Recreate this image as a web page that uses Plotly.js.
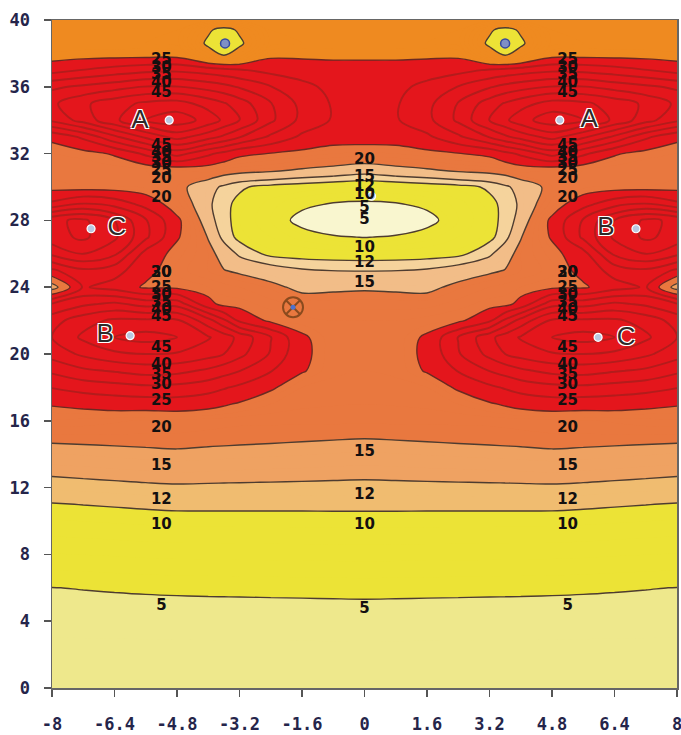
<!DOCTYPE html>
<html><head><meta charset="utf-8">
<script src="https://cdn.plot.ly/plotly-3.0.1.min.js"></script>
<style>html,body{margin:0;padding:0;background:#fff}#chart{width:681px;height:735px}</style>
</head><body><div id="chart"></div>
<script>
// grid coordinates (x, y) of the read-off field
const xGrid = [-8,-7.2,-6.4,-5.6,-4.8,-4,-3.6,-3.2,-2.4,-1.6,-0.8,0,0.8,1.6,2.4,3.2,3.6,4,4.8,5.6,6.4,7.2,8];
const yGrid = [0,5,6,7,10,11,12,13,14,15,16,17,18,19,20,21,22,23,24,25,26,27,28,29,30,31,32,33,34,35,36,37,37.8,38.6,39.4,40];
// field values (one row per yGrid value)
const zGrid = [
[3,3,3,3,3,3,3,3,3,3,3,3,3,3,3,3,3,3,3,3,3,3,3],
[4.65,4.67,4.69,4.71,4.73,4.74,4.75,4.75,4.76,4.77,4.79,4.8,4.79,4.77,4.76,4.75,4.75,4.74,4.73,4.71,4.69,4.67,4.65],
[4.98,5.05,5.12,5.19,5.24,5.28,5.29,5.31,5.34,5.37,5.4,5.43,5.4,5.37,5.34,5.31,5.29,5.28,5.24,5.19,5.12,5.05,4.98],
[5.94,6.03,6.11,6.2,6.26,6.29,6.3,6.32,6.34,6.37,6.4,6.42,6.4,6.37,6.34,6.32,6.3,6.29,6.26,6.2,6.11,6.03,5.94],
[8.91,9.02,9.13,9.25,9.33,9.35,9.35,9.36,9.37,9.38,9.4,9.41,9.4,9.38,9.37,9.36,9.35,9.35,9.33,9.25,9.13,9.02,8.91],
[9.9,10.04,10.18,10.32,10.43,10.43,10.43,10.43,10.42,10.42,10.42,10.42,10.42,10.42,10.42,10.43,10.43,10.43,10.43,10.32,10.18,10.04,9.9],
[11.13,11.28,11.43,11.58,11.69,11.65,11.63,11.61,11.58,11.54,11.5,11.47,11.5,11.54,11.58,11.61,11.63,11.65,11.69,11.58,11.43,11.28,11.13],
[12.44,12.62,12.8,12.99,13.13,13.02,12.98,12.94,12.85,12.77,12.68,12.6,12.68,12.77,12.85,12.94,12.98,13.02,13.13,12.99,12.8,12.62,12.44],
[13.9,14.1,14.3,14.48,14.63,14.46,14.4,14.33,14.2,14.07,13.93,13.8,13.93,14.07,14.2,14.33,14.4,14.46,14.63,14.48,14.3,14.1,13.9],
[15.58,15.64,15.7,15.76,15.8,15.66,15.6,15.55,15.44,15.32,15.2,15.1,15.2,15.32,15.44,15.55,15.6,15.66,15.8,15.76,15.7,15.64,15.58],
[17.8,17.6,17.2,16.8,16.6,16.4,16.3,16.2,16.2,16.2,16.2,16.2,16.2,16.2,16.2,16.2,16.3,16.4,16.6,16.8,17.2,17.6,17.8],
[20.3,21,21.8,22,22.5,21.5,20.5,19.5,18,17.3,17.1,17,17.1,17.3,18,19.5,20.5,21.5,22.5,22,21.8,21,20.3],
[25.2,27,28,29,28.5,27,25.5,24,20.5,18,17.7,17.6,17.7,18,20.5,24,25.5,27,28.5,29,28,27,25.2],
[31,34,35.5,37,36.5,34,32,30.2,25.3,20.3,18.2,18,18.2,20.3,25.3,30.2,32,34,36.5,37,35.5,34,31],
[37,41,44,45,44.5,42,40,36.5,29.5,20.8,18.3,18.3,18.3,20.8,29.5,36.5,40,42,44.5,45,44,41,37],
[40,46,50,52,50,45.5,42.5,38.5,30.2,20.5,18.3,18.3,18.3,20.5,30.2,38.5,42.5,45.5,50,52,50,46,40],
[38,43,46,46,46,37,31,24,19,18.5,18,18,18,18.5,19,24,31,37,46,46,46,43,38],
[30.2,34,36,33,33,21.5,18.5,18.5,17.5,16.5,16.5,16.5,16.5,16.5,17.5,18.5,18.5,21.5,33,33,36,34,30.2],
[12.5,25.5,23,19.3,19,18,17.5,17,15.8,14.2,14.4,14.6,14.4,14.2,15.8,17,17.5,18,19,19.3,23,25.5,12.5],
[24,29,27,21.5,17.5,16,15.1,14.5,13.3,12.3,11.95,11.9,11.95,12.3,13.3,14.5,15.1,16,17.5,21.5,27,29,24],
[36,40,36,23,18.5,16,13.8,11.5,9.4,9,8.8,8.7,8.8,9,9.4,11.5,13.8,16,18.5,23,36,40,36],
[43,46,41,31,20.5,14.8,11.2,9.4,8,6.5,5.3,4.9,5.3,6.5,8,9.4,11.2,14.8,20.5,31,41,46,43],
[44,46,40,30.5,21,12.9,10.8,9,7,3.8,2.6,2,2.6,3.8,7,9,10.8,12.9,21,30.5,40,46,44],
[26,30.2,28,23,17.5,12.5,10.5,9.5,7.5,5.8,4.8,4.5,4.8,5.8,7.5,9.5,10.5,12.5,17.5,23,28,30.2,26],
[18.5,18,18,17.5,16,13,11.5,10.3,9.3,8.8,8.3,8,8.3,8.8,9.3,10.3,11.5,13,16,17.5,18,18,18.5],
[17.5,17,17,17,17,17.5,16.5,16,15.5,14.6,14,13.2,14,14.6,15.5,16,16.5,17.5,17,17,17,17,17.5],
[18,18.5,20.5,26,32,26,23.5,21,19.8,18.8,18,17.7,18,18.8,19.8,21,23.5,26,32,26,20.5,18.5,18],
[21,26,34,41,47,42,39,35.3,29,24,22,22,22,24,29,35.3,39,42,47,41,34,26,21],
[36,42,49,55,58,53,49,45.3,36,28.5,24.5,23,24.5,28.5,36,45.3,49,53,58,55,49,42,36],
[39,44,48,51,52,48,45.5,42.5,35.3,28.5,24.5,23.5,24.5,28.5,35.3,42.5,45.5,48,52,51,48,44,39],
[34,36,38,40.3,40.3,38,36.5,34.5,30.2,26.5,23.5,23,23.5,26.5,30.2,34.5,36.5,38,40.3,40.3,38,36,34],
[23,25.2,27,28.5,29,27.5,26.5,25.5,23.5,22.5,21.5,21.5,21.5,22.5,23.5,25.5,26.5,27.5,29,28.5,27,25.2,23],
[18.5,19,19.3,19.5,19.5,13,11,13,19.5,19.5,19.5,19.5,19.5,19.5,19.5,13,11,13,19.5,19.5,19.3,19,18.5],
[17,17,17,17,16.5,9,2,9,16.5,17,17,17,17,17,16.5,9,2,9,16.5,17,17,17,17],
[17,17,17,17,17,10.8,8,10.8,17,17,17,17,17,17,17,10.8,8,10.8,17,17,17,17,17],
[17,17,17,17,17,17,17,17,17,17,17,17,17,17,17,17,17,17,17,17,17,17,17]
];
// contour levels drawn as lines
const lowLevels = [5,10,15];
const level12 = 12;
const redLevel = 20;
const starLevel = 10;
const ringLevelStart = 25, ringLevelEnd = 65, ringLevelStep = 5;

// axis ticks
const xTickVals = [-8,-6.4,-4.8,-3.2,-1.6,0,1.6,3.2,4.8,6.4,8];
const xTickText = ['-8','-6.4','-4.8','-3.2','-1.6','0','1.6','3.2','4.8','6.4','8'];
const yTickVals = [0,4,8,12,16,20,24,28,32,36,40];

// contour value labels
const labelX = [
 -5.2,-5.2,-5.2,-5.2,-5.2,-5.2,-5.2,-5.2,-5.2,-5.2,
 -5.2,-5.2,-5.2,-5.2,-5.2,-5.2,-5.2,
 -5.2,-5.2,-5.2,-5.2,-5.2,-5.2,-5.2,
 -5.2,-5.2,-5.2,-5.2,-5.2,
 5.2,5.2,5.2,5.2,5.2,5.2,5.2,5.2,5.2,5.2,
 5.2,5.2,5.2,5.2,5.2,5.2,5.2,
 5.2,5.2,5.2,5.2,5.2,5.2,5.2,
 5.2,5.2,5.2,5.2,5.2,
 0,0,0,0,0,0,0,0,0,0,0,0,0
];
const labelY = [
 4.87,9.72,11.26,13.25,15.57,17.15,18.15,18.75,19.35,20.35,
 22.2,22.6,23.05,23.5,23.95,24.85,24.85,
 29.3,30.45,30.95,31.35,31.7,32.05,32.45,
 35.6,36.2,36.7,37.1,37.6,
 4.87,9.72,11.26,13.25,15.57,17.15,18.15,18.75,19.35,20.35,
 22.2,22.6,23.05,23.5,23.95,24.85,24.85,
 29.3,30.45,30.95,31.35,31.7,32.05,32.45,
 35.6,36.2,36.7,37.1,37.6,
 4.73,9.72,11.56,14.13,24.25,25.45,26.35,28.0,28.7,29.5,30.0,30.6,31.6
];
const labelText = [
 '5','10','12','15','20','25','30','35','40','45',
 '45','40','35','30','25','20','30',
 '20','20','25','30','35','40','45',
 '45','40','35','30','25',
 '5','10','12','15','20','25','30','35','40','45',
 '45','40','35','30','25','20','30',
 '20','20','25','30','35','40','45',
 '45','40','35','30','25',
 '5','10','12','15','15','12','10','5','5','10','12','15','20'
];

// points and their letters
const siteX = [-5.0, 5.0, -7.0, 6.95, -6.0, 5.98, 0.18];
const siteY = [34.0, 34.0, 27.5, 27.5, 21.1, 21.0, 29.45];
const letterX = [-5.75, 5.75, -6.34, 6.18, -6.64, 6.7];
const letterY = [33.9, 34.0, 27.5, 27.5, 21.1, 20.95];
const letterText = ['A','A','C','B','B','C'];
const starX = [-3.57, 3.6];
const starY = [38.6, 38.6];
const crossX = [-1.83];
const crossY = [22.8];

// ---- helpers ----
const CLEAR = 'rgba(0,0,0,0)';
// stepped colour scale for a contour with unit level spacing from start to end
function bandScale(start, end, bands){
  const lo = start - 0.5, n = end - start + 1;
  const p = v => Math.max(0, Math.min(1, (v - lo) / n));
  const out = []; let prev = 0;
  bands.forEach(([upper, c], i) => {
    const u = (i === bands.length - 1) ? 1 : p(upper);
    out.push([prev, c]); out.push([u, c]); prev = u;
  });
  return out;
}
function subGrid(xr, yr, sign){
  const xi=[], yi=[];
  xGrid.forEach((v,i)=>{ if(v>=xr[0]-1e-9 && v<=xr[1]+1e-9) xi.push(i); });
  yGrid.forEach((v,i)=>{ if(v>=yr[0]-1e-9 && v<=yr[1]+1e-9) yi.push(i); });
  return { x: xi.map(i=>xGrid[i]), y: yi.map(j=>yGrid[j]), z: yi.map(j=>xi.map(i=>sign*zGrid[j][i])) };
}

const C = {
  pale:'#eee88c', yellow:'#ece336', light:'#f0bc70', peach:'#efa262', orange:'#e9783f', red:'#e4161c',
  cream:'#f9f6cf', ringLight:'#f5d39c', ringPeach:'#f2bd88', topOrange:'#ef8a20'
};
const lineCol = '#4e3c30';
const smooth = 1;

// main filled field
const mainFill = {
  type:'contour', x:xGrid, y:yGrid, z:zGrid,
  contours:{coloring:'fill', start:1, end:20, size:1, showlines:false},
  colorscale: bandScale(1, 20, [[5,C.pale],[10,C.yellow],[12,C.light],[15,C.peach],[20,C.orange],[Infinity,C.red]]),
  showscale:false, line:{width:0, smoothing:smooth}, hoverinfo:'skip'
};
// central low: paler bands (values negated so the low part is the nested "above" fill)
const cs = subGrid([-4.8,4.8],[23,32],-1);
const centerFill = {
  type:'contour', x:cs.x, y:cs.y, z:cs.z,
  contours:{coloring:'fill', start:-15, end:-5, size:1, showlines:false},
  colorscale: bandScale(-15, -5, [[-15,CLEAR],[-12,C.ringPeach],[-10,C.ringLight],[-5,C.yellow],[Infinity,C.cream]]),
  showscale:false, line:{width:0, smoothing:smooth}, hoverinfo:'skip'
};
// top strip
const ts = subGrid([-8,8],[36,40],-1);
const topFill = {
  type:'contour', x:ts.x, y:ts.y, z:ts.z,
  contours:{coloring:'fill', start:-20, end:-10, size:1, showlines:false},
  colorscale: bandScale(-20, -10, [[-20,CLEAR],[-10,C.topOrange],[Infinity,C.yellow]]),
  showscale:false, line:{width:0, smoothing:smooth}, hoverinfo:'skip'
};
function lineTrace(xr, yr, start, end, size, color, width){
  const g = subGrid(xr, yr, 1);
  return {type:'contour', x:g.x, y:g.y, z:g.z,
    contours:{coloring:'none', start:start, end:end, size:size},
    showscale:false, line:{color:color, width:width, smoothing:smooth}, hoverinfo:'skip'};
}
const linesLow = lineTrace([-8,8],[0,37], lowLevels[0], lowLevels[2], 5, lineCol, 1.4);
const lines12 = lineTrace([-8,8],[0,37], level12, level12+0.5, 1, lineCol, 1.4);
const linesRed = lineTrace([-8,8],[0,40], redLevel, redLevel+0.5, 1, '#6a2a22', 1.4);
const linesStar = lineTrace([-8,8],[37.8,40], starLevel, starLevel+0.5, 1, lineCol, 1.4);
const linesRing = lineTrace([-8,8],[0,40], ringLevelStart, ringLevelEnd, ringLevelStep, '#b31c1c', 1.9);

const labelTrace = {
  type:'scatter', mode:'text', x:labelX, y:labelY, text:labelText,
  textposition:'middle center', cliponaxis:false, hoverinfo:'skip',
  textfont:{family:'DejaVu Sans', size:15, color:'#141010', weight:'bold'}
};
const siteTrace = {
  type:'scatter', mode:'markers', x:siteX, y:siteY, hoverinfo:'skip',
  marker:{symbol:'circle', size:8, color:'#b9c8e2', line:{color:'#ffffff', width:1.2}}
};
const letterTrace = {
  type:'scatter', mode:'text', x:letterX, y:letterY, text:letterText, hoverinfo:'skip',
  textposition:'middle center',
  textfont:{family:'Liberation Sans', size:26, color:'#2e2a2a',
    shadow:'1px 1px 0 #fff, -1px -1px 0 #fff, 1px -1px 0 #fff, -1px 1px 0 #fff'}
};
const starTrace = {
  type:'scatter', mode:'markers', x:starX, y:starY, hoverinfo:'skip',
  marker:{symbol:'circle', size:9, color:'#7f90c6', line:{color:'#3548a0', width:1.5}}
};
const crossTrace = {
  type:'scatter', mode:'markers', x:crossX, y:crossY, hoverinfo:'skip',
  marker:{symbol:'circle-x-open', size:20, color:'#8a4a1e', line:{width:2}}
};
const crossDot = {
  type:'scatter', mode:'markers', x:crossX, y:crossY, hoverinfo:'skip',
  marker:{symbol:'circle', size:5, color:'#4d72cf'}
};

const tickFont = {family:'DejaVu Sans Mono', size:17, color:'#25254a', weight:'bold'};
const layout = {
  width:681, height:735, margin:{l:52, r:4, t:20, b:47},
  paper_bgcolor:'#ffffff', plot_bgcolor:'#ffffff', showlegend:false,
  xaxis:{range:[-8,8], tickmode:'array', tickvals:xTickVals, ticktext:xTickText,
    ticks:'outside', ticklen:7, tickwidth:1.5, tickcolor:'#555',
    showline:true, linecolor:'#666', linewidth:1.5, mirror:true,
    showgrid:false, zeroline:false, tickfont:tickFont, ticklabelstandoff:13,
    ticklabeloverflow:'allow'},
  yaxis:{range:[0,40], tickmode:'array', tickvals:yTickVals,
    ticks:'outside', ticklen:7, tickwidth:1.5, tickcolor:'#555',
    showline:true, linecolor:'#666', linewidth:1.5, mirror:true,
    showgrid:false, zeroline:false, tickfont:tickFont, ticklabelstandoff:10}
};

Plotly.newPlot('chart', [mainFill, centerFill, topFill, linesLow, lines12, linesRed, linesStar, linesRing,
  siteTrace, starTrace, crossTrace, crossDot, labelTrace, letterTrace], layout, {staticPlot:true});
</script>
</body></html>
